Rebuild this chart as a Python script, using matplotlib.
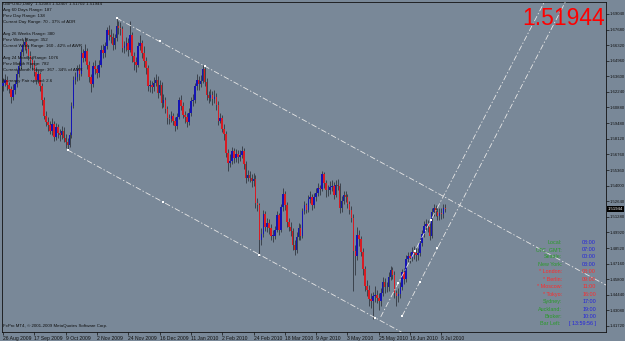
import matplotlib
matplotlib.use("Agg")
import matplotlib.pyplot as plt
import numpy as np
from matplotlib.transforms import blended_transform_factory

plt.rcParams["lines.scale_dashes"] = False

symbol = "GBPUSD,Daily"

opens = [1.6270,1.6300,1.6330,1.6280,1.6250,1.6180,1.6240,1.6290,1.6380,1.6450,
         1.6570,1.6630,1.6660,1.6600,1.6540,1.6500,1.6460,1.6400,1.6330,1.6380,
         1.6270,1.6150,1.6010,1.5960,1.5930,1.5880,1.5940,1.5830,1.5910,1.5860,
         1.5840,1.5880,1.5820,1.5780,1.5760,1.5840,1.6100,1.6330,1.6350,1.6420,
         1.6380,1.6560,1.6520,1.6580,1.6460,1.6350,1.6290,1.6450,1.6420,1.6390,
         1.6460,1.6590,1.6560,1.6620,1.6760,1.6720,1.6700,1.6630,1.6690,1.6800,
         1.6780,1.6770,1.6610,1.6620,1.6650,1.6590,1.6720,1.6540,1.6480,1.6460,
         1.6620,1.6650,1.6560,1.6490,1.6430,1.6270,1.6280,1.6260,1.6300,1.6330,
         1.6210,1.6280,1.6120,1.6150,1.6070,1.5990,1.5980,1.6010,1.5970,1.5920,
         1.6000,1.6150,1.6100,1.6020,1.6000,1.5960,1.6040,1.6140,1.6150,1.6270,
         1.6330,1.6290,1.6320,1.6420,1.6310,1.6190,1.6170,1.6190,1.6160,1.6180,
         1.6110,1.5970,1.5990,1.5900,1.5850,1.5690,1.5600,1.5620,1.5700,1.5640,
         1.5680,1.5650,1.5670,1.5700,1.5590,1.5470,1.5490,1.5470,1.5440,1.5460,
         1.5250,1.5230,1.4920,1.4980,1.5150,1.5040,1.5070,1.5030,1.4960,1.4960,
         1.5010,1.5140,1.5010,1.5210,1.5330,1.5230,1.5080,1.5040,1.5000,1.4880,
         1.4840,1.4950,1.5030,1.4960,1.5180,1.5230,1.5190,1.5280,1.5300,1.5230,
         1.5300,1.5340,1.5380,1.5370,1.5500,1.5420,1.5360,1.5360,1.5390,1.5400,
         1.5320,1.5410,1.5400,1.5200,1.5270,1.5320,1.5300,1.5240,1.5190,1.5120,
         1.4830,1.4780,1.4970,1.4930,1.4820,1.4670,1.4520,1.4490,1.4410,1.4390,
         1.4430,1.4440,1.4420,1.4390,1.4460,1.4560,1.4510,1.4510,1.4600,1.4660,
         1.4620,1.4460,1.4430,1.4450,1.4510,1.4640,1.4580,1.4760,1.4780,1.4770,
         1.4820,1.4810,1.4790,1.4810,1.4900,1.4980,1.5050,1.5060,1.5040,1.4960,
         1.5170,1.5200,1.5170,1.5130,1.5160,1.5150,1.52083]

highs = [1.6340,1.6380,1.6360,1.6310,1.6270,1.6290,1.6330,1.6420,1.6490,1.6600,
         1.6680,1.6700,1.6690,1.6630,1.6580,1.6540,1.6500,1.6440,1.6420,1.6400,
         1.6300,1.6180,1.6050,1.6000,1.5970,1.5990,1.5970,1.5950,1.5940,1.5900,
         1.5920,1.5910,1.5850,1.5820,1.5870,1.6130,1.6360,1.6400,1.6460,1.6470,
         1.6620,1.6600,1.6640,1.6610,1.6490,1.6380,1.6480,1.6500,1.6460,1.6500,
         1.6630,1.6640,1.6660,1.6790,1.6810,1.6770,1.6740,1.6730,1.6870,1.6840,
         1.6830,1.6800,1.6670,1.6700,1.6690,1.6840,1.6750,1.6570,1.6530,1.6660,
         1.6720,1.6680,1.6620,1.6530,1.6460,1.6330,1.6320,1.6350,1.6380,1.6360,
         1.6330,1.6310,1.6200,1.6180,1.6100,1.6030,1.6050,1.6040,1.6000,1.6040,
         1.6180,1.6190,1.6130,1.6050,1.6040,1.6080,1.6180,1.6200,1.6300,1.6380,
         1.6360,1.6370,1.6455,1.6440,1.6340,1.6230,1.6250,1.6230,1.6240,1.6210,
         1.6140,1.6040,1.6020,1.5940,1.5880,1.5720,1.5680,1.5740,1.5730,1.5720,
         1.5710,1.5710,1.5750,1.5730,1.5620,1.5540,1.5530,1.5500,1.5510,1.5490,
         1.5290,1.5250,1.5030,1.5190,1.5180,1.5120,1.5110,1.5060,1.5010,1.5050,
         1.5180,1.5160,1.5240,1.5380,1.5350,1.5260,1.5120,1.5080,1.5030,1.4920,
         1.4990,1.5070,1.5060,1.5200,1.5270,1.5250,1.5320,1.5350,1.5330,1.5340,
         1.5380,1.5420,1.5410,1.5530,1.5520,1.5450,1.5410,1.5440,1.5450,1.5430,
         1.5450,1.5460,1.5420,1.5310,1.5350,1.5350,1.5330,1.5270,1.5220,1.5150,
         1.4880,1.5040,1.5010,1.4960,1.4850,1.4700,1.4570,1.4530,1.4460,1.4470,
         1.4520,1.4490,1.4460,1.4500,1.4600,1.4590,1.4560,1.4640,1.4700,1.4690,
         1.4650,1.4490,1.4500,1.4560,1.4670,1.4680,1.4790,1.4820,1.4820,1.4860,
         1.4870,1.4850,1.4850,1.4940,1.5010,1.5090,1.5110,1.5100,1.5070,1.5200,
         1.5240,1.5230,1.5210,1.5200,1.5200,1.5240,1.52407]

lows = [1.6230,1.6270,1.6240,1.6210,1.6120,1.6150,1.6200,1.6260,1.6350,1.6420,
        1.6540,1.6590,1.6560,1.6500,1.6430,1.6420,1.6360,1.6290,1.6300,1.6230,
        1.6110,1.5980,1.5920,1.5880,1.5850,1.5840,1.5790,1.5800,1.5820,1.5790,
        1.5810,1.5780,1.5730,1.5710,1.5740,1.5820,1.6080,1.6290,1.6320,1.6330,
        1.6360,1.6480,1.6490,1.6420,1.6310,1.6220,1.6260,1.6380,1.6340,1.6350,
        1.6440,1.6520,1.6530,1.6600,1.6680,1.6650,1.6590,1.6600,1.6670,1.6730,
        1.6720,1.6570,1.6560,1.6580,1.6540,1.6570,1.6480,1.6410,1.6400,1.6440,
        1.6590,1.6520,1.6440,1.6380,1.6230,1.6220,1.6210,1.6230,1.6270,1.6170,
        1.6190,1.6080,1.6090,1.6040,1.5940,1.5940,1.5960,1.5930,1.5880,1.5900,
        1.5980,1.6060,1.5990,1.5950,1.5910,1.5930,1.6010,1.6100,1.6120,1.6240,
        1.6240,1.6260,1.6300,1.6270,1.6150,1.6120,1.6140,1.6110,1.6120,1.6060,
        1.5930,1.5950,1.5870,1.5800,1.5650,1.5530,1.5560,1.5590,1.5600,1.5610,
        1.5600,1.5620,1.5640,1.5550,1.5420,1.5440,1.5430,1.5390,1.5400,1.5200,
        1.5180,1.4780,1.4880,1.4950,1.5000,1.4990,1.4980,1.4920,1.4910,1.4930,
        1.4990,1.4970,1.4990,1.5180,1.5190,1.5040,1.5000,1.4960,1.4840,1.4790,
        1.4810,1.4920,1.4920,1.4940,1.5150,1.5160,1.5170,1.5250,1.5190,1.5200,
        1.5270,1.5310,1.5320,1.5350,1.5380,1.5300,1.5310,1.5330,1.5350,1.5280,
        1.5300,1.5360,1.5160,1.5170,1.5240,1.5260,1.5200,1.5150,1.5080,1.4475,
        1.4620,1.4750,1.4870,1.4780,1.4620,1.4480,1.4430,1.4350,1.4330,1.4229,
        1.4380,1.4370,1.4310,1.4350,1.4430,1.4460,1.4470,1.4480,1.4570,1.4580,
        1.4420,1.4350,1.4380,1.4420,1.4490,1.4540,1.4560,1.4730,1.4720,1.4740,
        1.4760,1.4740,1.4750,1.4780,1.4870,1.4950,1.5010,1.4990,1.4920,1.4940,
        1.5130,1.5130,1.5100,1.5100,1.5110,1.5120,1.51702]

closes = [1.6300,1.6330,1.6280,1.6250,1.6180,1.6240,1.6290,1.6380,1.6450,1.6570,
          1.6630,1.6660,1.6600,1.6540,1.6500,1.6460,1.6400,1.6330,1.6380,1.6270,
          1.6150,1.6010,1.5960,1.5930,1.5880,1.5940,1.5830,1.5910,1.5860,1.5840,
          1.5880,1.5820,1.5780,1.5760,1.5840,1.6100,1.6330,1.6350,1.6420,1.6380,
          1.6560,1.6520,1.6580,1.6460,1.6350,1.6290,1.6450,1.6420,1.6390,1.6460,
          1.6590,1.6560,1.6620,1.6760,1.6720,1.6700,1.6630,1.6690,1.6800,1.6780,
          1.6770,1.6610,1.6620,1.6650,1.6590,1.6720,1.6540,1.6480,1.6460,1.6620,
          1.6650,1.6560,1.6490,1.6430,1.6270,1.6280,1.6260,1.6300,1.6330,1.6210,
          1.6280,1.6120,1.6150,1.6070,1.5990,1.5980,1.6010,1.5970,1.5920,1.6000,
          1.6150,1.6100,1.6020,1.6000,1.5960,1.6040,1.6140,1.6150,1.6270,1.6330,
          1.6290,1.6320,1.6420,1.6310,1.6190,1.6170,1.6190,1.6160,1.6180,1.6110,
          1.5970,1.5990,1.5900,1.5850,1.5690,1.5600,1.5620,1.5700,1.5640,1.5680,
          1.5650,1.5670,1.5700,1.5590,1.5470,1.5490,1.5470,1.5440,1.5460,1.5250,
          1.5230,1.4920,1.4980,1.5150,1.5040,1.5070,1.5030,1.4960,1.4960,1.5010,
          1.5140,1.5010,1.5210,1.5330,1.5230,1.5080,1.5040,1.5000,1.4880,1.4840,
          1.4950,1.5030,1.4960,1.5180,1.5230,1.5190,1.5280,1.5300,1.5230,1.5300,
          1.5340,1.5380,1.5370,1.5500,1.5420,1.5360,1.5360,1.5390,1.5400,1.5320,
          1.5410,1.5400,1.5200,1.5270,1.5320,1.5300,1.5240,1.5190,1.5120,1.4830,
          1.4780,1.4970,1.4930,1.4820,1.4670,1.4520,1.4490,1.4410,1.4390,1.4430,
          1.4440,1.4420,1.4390,1.4460,1.4560,1.4510,1.4510,1.4600,1.4660,1.4620,
          1.4460,1.4430,1.4450,1.4510,1.4640,1.4580,1.4760,1.4780,1.4770,1.4820,
          1.4810,1.4790,1.4810,1.4900,1.4980,1.5050,1.5060,1.5040,1.4960,1.5170,
          1.5200,1.5170,1.5130,1.5160,1.5150,1.5208,1.51944]

date_tick_labels = ["26 Aug 2009", "17 Sep 2009", "9 Oct 2009", "2 Nov 2009",
                    "24 Nov 2009", "16 Dec 2009", "11 Jan 2010", "2 Feb 2010",
                    "24 Feb 2010", "18 Mar 2010", "9 Apr 2010", "3 May 2010",
                    "25 May 2010", "16 Jun 2010", "8 Jul 2010"]
date_tick_step = 16

price_ticks = [1.69040, 1.67680, 1.66320, 1.64960, 1.63600, 1.62240, 1.60880,
               1.59480, 1.58120, 1.56760, 1.55360, 1.54000, 1.52640, 1.51280,
               1.49920, 1.48520, 1.47160, 1.45800, 1.44440, 1.43080, 1.41720]

stats_lines = ["Avg 60 Days Range: 187", "Prev Day Range: 138",
               "Current Day Range: 70 - 37% of ADR", "",
               "Avg 26 Weeks Range: 380", "Prev Week Range: 352",
               "Current Week Range: 160 - 42% of AWR", "",
               "Avg 24 Months Range: 1076", "Prev Month Range: 782",
               "Current Month Range: 367 - 34% of AMR", "",
               "Currency Pair spread: 2.6"]

clock_labels = ["Local:", "UTC_GMT:", "Seattle:", "New York:", "* London:",
                "* Berlin:", "* Moscow:", "* Tokyo:", "Sydney:", "Auckland:",
                "Broker:", "Bar Left:"]
clock_values = ["08:00", "07:00", "00:00", "03:00", "08:00", "09:00", "11:00",
                "16:00", "17:00", "19:00", "10:00", "[ 13:59:56 ]"]
clock_open_market = [False, False, False, False, True, True, True, True,
                     False, False, False, False]

# drawn channel objects (bar index, price)
down_upper_anchor = [(58, 1.6869), (103, 1.6448)]
down_lower_start = (33, 1.5713)
down_upper_dots = [58, 80, 103]
down_lower_dots = [33, 82, 131, 190]
rise_a_anchor = [(202, 1.4548), (218.7, 1.5099)]
rise_a_start = 193
rise_b_start_anchor = (204, 1.4260)
rise_a_dots = [202, 210.5, 218.7]
rise_b_dots = [204, 213, 222]

# ---------------------------------------------------------------
W, H = 625, 341
BG = "#798898"
fig = plt.figure(figsize=(W / 100, H / 100), dpi=100, facecolor=BG)
ax = fig.add_axes([2 / W, 9 / H, 604 / W, 330 / H], facecolor=BG)

n = len(closes)
idx = np.arange(n)
o = np.array(opens); c = np.array(closes); hi = np.array(highs); lo = np.array(lows)
up = c >= o

ax.vlines(idx, lo, hi, colors="#2c3038", linewidth=0.55, zorder=2)
body_bottom = np.minimum(o, c)
body_h = np.maximum(np.abs(c - o), 0.0004)
ax.bar(idx[up], body_h[up], bottom=body_bottom[up], width=0.8,
       color="#1515b4", linewidth=0, zorder=3)
ax.bar(idx[~up], body_h[~up], bottom=body_bottom[~up], width=0.8,
       color="#d81c24", linewidth=0, zorder=3)

x_left, x_right = -0.51, 308.1
ax.set_xlim(x_left, x_right)
ax.set_ylim(1.4118, 1.7009)

# channel lines
line_kw = dict(color="#e6e6e6", linewidth=0.6, dashes=(4, 1.5, 1, 1.5), zorder=4)
(x1, y1), (x2, y2) = down_upper_anchor
s_down = (y2 - y1) / (x2 - x1)
ax.plot([x1, x_right], [y1, y1 + s_down * (x_right - x1)], **line_kw)
lx, ly = down_lower_start
ax.plot([lx, x_right], [ly, ly + s_down * (x_right - lx)], **line_kw)

(a1, p1), (a2, p2) = rise_a_anchor
s_up = (p2 - p1) / (a2 - a1)
ax.plot([rise_a_start, x_right], [p1 + s_up * (rise_a_start - a1), p1 + s_up * (x_right - a1)], **line_kw)
bx, by = rise_b_start_anchor
ax.plot([bx, x_right], [by, by + s_up * (x_right - bx)], **line_kw)

dot_x, dot_y = [], []
for b in down_upper_dots:
    dot_x.append(b); dot_y.append(y1 + s_down * (b - x1))
for b in down_lower_dots:
    dot_x.append(b); dot_y.append(ly + s_down * (b - lx))
for b in rise_a_dots:
    dot_x.append(b); dot_y.append(p1 + s_up * (b - a1))
for b in rise_b_dots:
    dot_x.append(b); dot_y.append(by + s_up * (b - bx))
ax.scatter(dot_x, dot_y, s=2.2, marker="s", color="white", linewidths=0, zorder=5)

# axes styling
for sp in ax.spines.values():
    sp.set_color("#111111")
    sp.set_linewidth(0.6)

ax.yaxis.tick_right()
ax.set_yticks(price_ticks)
ax.set_yticklabels([f"{v:.5f}" for v in price_ticks])
ax.tick_params(axis="y", direction="out", length=2, width=0.5, pad=0.6,
               labelsize=3.1, colors="#111111", right=True, left=False)

xt = [i * date_tick_step for i in range(len(date_tick_labels))]
ax.set_xticks(xt)
ax.set_xticklabels(date_tick_labels)
ax.tick_params(axis="x", direction="out", length=2, width=0.5, pad=1.2,
               labelsize=3.6, colors="#111111")
for lbl in ax.get_xticklabels():
    lbl.set_ha("left")
    lbl.set_family("Liberation Sans")
for lbl in ax.get_yticklabels():
    lbl.set_family("Liberation Sans")

# current price marker on axis
tr = blended_transform_factory(ax.transAxes, ax.transData)
last = closes[-1]
ax.text(1.003, last, f"{last:.5f}", transform=tr, fontsize=3.1, color="white",
        ha="left", va="center", family="Liberation Sans",
        bbox=dict(boxstyle="square,pad=0.2", fc="black", ec="none"), zorder=10,
        clip_on=False)

def fx(px):
    return px / W

def fy(py):
    return 1 - py / H

# header + stats
header = f"{symbol}  {opens[-1]:.5f} {highs[-1]:.5f} {lows[-1]:.5f} {closes[-1]:.5f}"
fig.text(fx(3), fy(4.5), header, fontsize=3.2, color="#101010", va="center",
         family="Liberation Sans")
for k, s in enumerate(stats_lines):
    if s:
        fig.text(fx(3), fy(10 + 5.95 * k), s, fontsize=3.2, color="#101010",
                 va="center", family="Liberation Sans")

# big price
fig.text(fx(605), fy(18.5), f"{last:.5f}", fontsize=16.5, color="#ff0000",
         ha="right", va="center", family="Liberation Sans")

# clock panel
for k, (lab, val, hot) in enumerate(zip(clock_labels, clock_values, clock_open_market)):
    yy = fy(242 + 7.45 * k)
    lc = "#ff2a2a" if hot else "#2a9a2a"
    vc = "#ff2a2a" if hot else "#2323dd"
    lx_px = 560 if k == len(clock_labels) - 1 else 562
    fig.text(fx(lx_px), yy, lab, fontsize=3.9, color=lc, ha="right", va="center",
             family="Liberation Sans")
    fig.text(fx(596), yy, val, fontsize=3.9, color=vc, ha="right", va="center",
             family="Liberation Sans")

fig.text(fx(3), fy(326), "FxPro MT4, \u00a9 2001-2009 MetaQuotes Software Corp.",
         fontsize=3.2, color="#101010", va="center", family="Liberation Sans")

fig.savefig("out.png", dpi=100, facecolor=BG)
